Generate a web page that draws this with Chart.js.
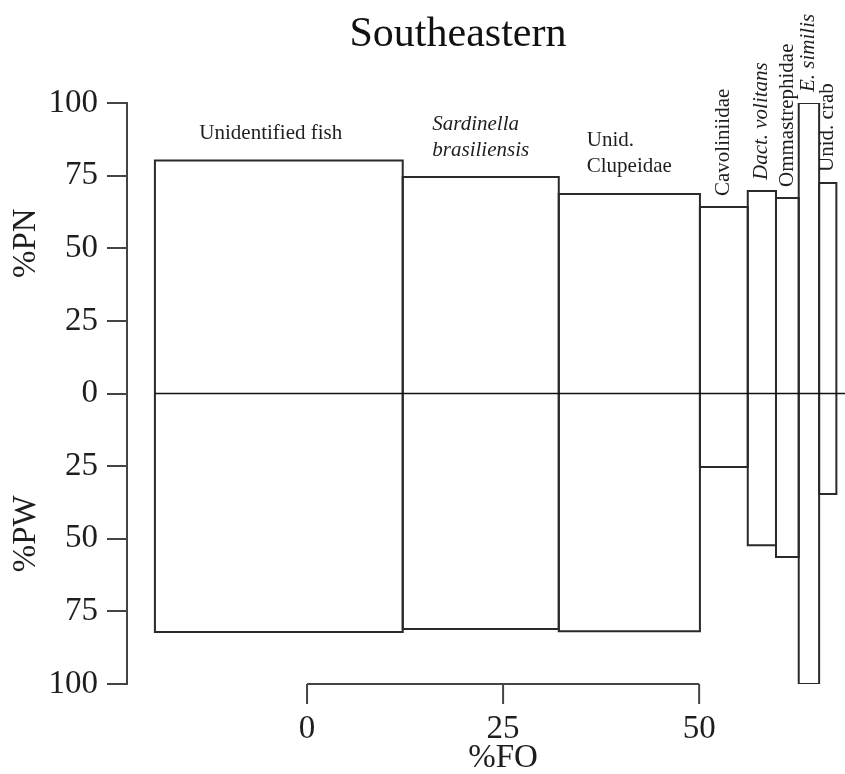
<!DOCTYPE html>
<html>
<head>
<meta charset="utf-8">
<title>Southeastern</title>
<script src="https://cdn.jsdelivr.net/npm/chart.js@4"></script>
<style>
  html, body { margin: 0; padding: 0; background: #fff; }
  #wrap { width: 845px; height: 774px; }
</style>
</head>
<body>
<div id="wrap"><canvas id="diet"></canvas></div>
<script>
// prey categories, in plotting order (left to right)
const preyNames = [
  ["Unidentified fish"],
  ["Sardinella", "brasiliensis"],
  ["Unid.", "Clupeidae"],
  ["Cavoliniidae"],
  ["Dact. volitans"],
  ["Ommastrephidae"],
  ["E. similis"],
  ["Unid. crab"]
];
const italicNames = [false, true, false, false, true, false, true, false];

// %FO (bar width), %PN (up), %PW (down)
const foStart = -19.4;
const foWidth = [31.6, 19.9, 18.0, 6.1, 3.6, 2.9, 2.6, 2.2];
const pnValues = [80.2, 74.5, 68.7, 64.2, 69.7, 67.3, 100, 72.5];
const pwValues = [82.1, 81.1, 81.8, 25.3, 52.2, 56.3, 100, 34.6];

// axis ranges / ticks
const foTicks = [0, 25, 50];
const foMin = -22.96, foMax = 68.6;
const pMin = -100, pMax = 100, pStep = 25;

const TITLE = "Southeastern";
const SERIF = '"Liberation Serif", "DejaVu Serif", serif';
const INK = "#1e1e1e";
const AXIS = "#444";

// cumulative left edges of the bars
const edges = [foStart];
foWidth.forEach((w, i) => edges.push(edges[i] + w));

// each prey item is an outlined rectangle: PN above zero, PW below
const barSets = foWidth.map((w, i) => {
  const x0 = edges[i], x1 = edges[i + 1];
  return {
    label: preyNames[i].join(" "),
    data: [
      { x: x0, y: 0 }, { x: x0, y: pnValues[i] }, { x: x1, y: pnValues[i] },
      { x: x1, y: -pwValues[i] }, { x: x0, y: -pwValues[i] }, { x: x0, y: 0 }
    ],
    showLine: true,
    borderColor: "#2a2a2a",
    borderWidth: 2,
    borderJoinStyle: "miter",
    pointRadius: 0,
    fill: false,
    tension: 0
  };
});

const zeroLine = {
  label: "zero",
  data: [{ x: foStart, y: 0 }, { x: foMax, y: 0 }],
  showLine: true,
  borderColor: "#111",
  borderWidth: 1.5,
  pointRadius: 0,
  fill: false
};

// extra drawing: title, %FO axis, side titles, prey labels
const extras = {
  id: "extras",
  afterDraw(chart) {
    const ctx = chart.ctx;
    const xs = chart.scales.x, ys = chart.scales.y;
    const area = chart.chartArea;
    ctx.save();

    // title, centred over the middle of the FO range
    ctx.fillStyle = "#111";
    ctx.font = "42px " + SERIF;
    ctx.textAlign = "center";
    ctx.textBaseline = "middle";
    ctx.fillText(TITLE, (xs.getPixelForValue(foStart) + chart.width) / 2 - 42, 35);

    // %FO axis segment
    const yb = area.bottom;
    ctx.strokeStyle = AXIS;
    ctx.lineWidth = 2;
    ctx.beginPath();
    ctx.moveTo(xs.getPixelForValue(foTicks[0]), yb);
    ctx.lineTo(xs.getPixelForValue(foTicks[foTicks.length - 1]), yb);
    foTicks.forEach(t => {
      const px = xs.getPixelForValue(t);
      ctx.moveTo(px, yb);
      ctx.lineTo(px, yb + 20);
    });
    ctx.stroke();

    ctx.fillStyle = INK;
    ctx.font = "33px " + SERIF;
    foTicks.forEach(t => ctx.fillText(String(t), xs.getPixelForValue(t), yb + 45));
    ctx.fillText("%FO", xs.getPixelForValue(25), yb + 74);

    // %PN / %PW side titles
    [["%PN", 50], ["%PW", -50]].forEach(([txt, v]) => {
      ctx.save();
      ctx.translate(26, ys.getPixelForValue(v) - 5);
      ctx.rotate(-Math.PI / 2);
      ctx.fillText(txt, 0, 0);
      ctx.restore();
    });

    // prey labels
    preyNames.forEach((lines, i) => {
      const left = xs.getPixelForValue(edges[i]);
      const right = xs.getPixelForValue(edges[i + 1]);
      const cx = (left + right) / 2;
      const top = ys.getPixelForValue(pnValues[i]);
      ctx.font = (italicNames[i] ? "italic " : "") + "21px " + SERIF;
      ctx.fillStyle = INK;
      ctx.textBaseline = "middle";
      if (right - left < 60) {
        ctx.save();
        ctx.translate(cx, top - 11);
        ctx.rotate(-Math.PI / 2);
        ctx.textAlign = "left";
        ctx.fillText(lines.join(" "), 0, 0);
        ctx.restore();
      } else {
        const widths = lines.map(l => ctx.measureText(l).width);
        const maxW = Math.max(...widths);
        const lh = 26;
        const x0 = lines.length > 1 ? cx - maxW / 2 : cx - 8;
        ctx.textAlign = lines.length > 1 ? "left" : "center";
        lines.forEach((l, k) => {
          const y = top - 27 - (lines.length - 1 - k) * lh;
          ctx.fillText(l, x0, y);
        });
      }
    });

    ctx.restore();
  }
};

new Chart(document.getElementById("diet"), {
  type: "scatter",
  data: { datasets: [zeroLine, ...barSets] },
  options: {
    responsive: true,
    maintainAspectRatio: false,
    animation: false,
    layout: { padding: { left: 0, right: 0, top: 103, bottom: 90 } },
    plugins: {
      legend: { display: false },
      tooltip: { enabled: false },
      title: { display: false }
    },
    scales: {
      x: { type: "linear", min: foMin, max: foMax, display: false },
      y: {
        type: "linear",
        min: pMin,
        max: pMax,
        afterFit: s => { s.width = 127; },
        ticks: {
          stepSize: pStep,
          padding: 9,
          color: INK,
          font: { family: SERIF, size: 33 },
          callback: v => Math.abs(v)
        },
        grid: { drawOnChartArea: false, drawTicks: true, tickLength: 20, color: AXIS, lineWidth: 2 },
        border: { display: true, color: AXIS, width: 2 }
      }
    }
  },
  plugins: [extras]
});
</script>
</body>
</html>
